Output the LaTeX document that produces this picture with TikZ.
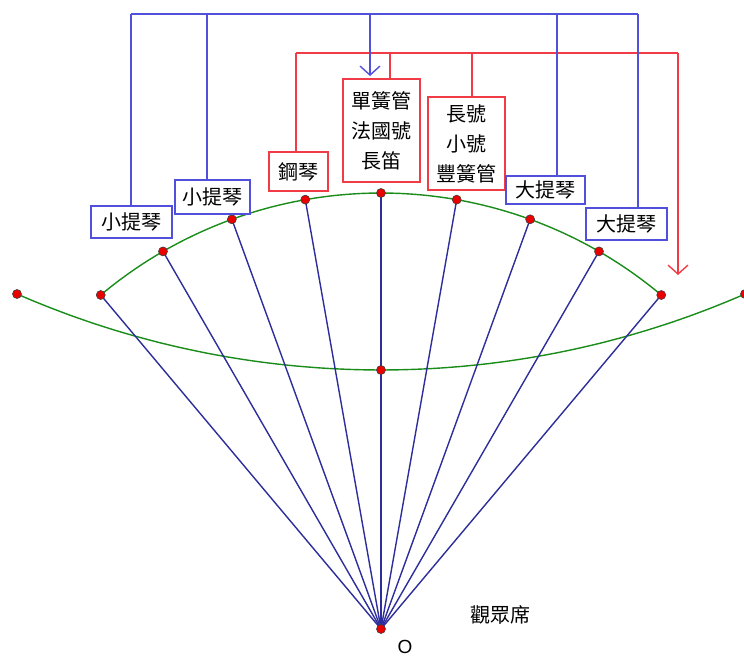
\documentclass[tikz,border=0pt]{standalone}
\usepackage{fontspec}
\setmainfont{Liberation Sans}
\newfontfamily\cjk{Noto Sans CJK TC}
\usetikzlibrary{arrows.meta}
\definecolor{raycol}{RGB}{45,45,155}
\definecolor{linkblue}{RGB}{80,80,220}
\definecolor{linkred}{RGB}{240,60,70}
\definecolor{arcgreen}{RGB}{25,140,25}
\definecolor{dotred}{RGB}{235,0,0}
\begin{document}
\begin{tikzpicture}[x=1pt,y=-1pt,
  ray/.style={raycol, line width=1.4pt},
  arcline/.style={arcgreen, line width=1.4pt},
  boxbase/.style={line width=1.5pt, fill=white, inner sep=0pt, align=center,
    font=\cjk\fontsize{20}{30}\selectfont},
  bluebox/.style={boxbase, draw=linkblue},
  redbox/.style={boxbase, draw=linkred},
  bluelink/.style={linkblue, line width=1.4pt},
  redlink/.style={linkred, line width=1.4pt},
  pin/.style={circle, fill=dotred, draw=black!75, line width=0.6pt, inner sep=0pt, minimum size=9pt},
  tip/.style={-{Straight Barb[length=9pt,width=20pt]}}
]
\useasboundingbox (0,0) rectangle (744,659);

% points
\coordinate (O) at (381,629);
\foreach \t [count=\i] in {-40,-30,...,40}
  \coordinate (u\i) at ({381+436*sin(\t)},{629-436*cos(\t)});
\coordinate (lw) at (17,294);
\coordinate (lc) at (381,370);
\coordinate (le) at (745,294);

% arcs
\draw[arcline] plot[domain=-23.6:23.6, samples=80] ({381+910*sin(\x)},{-540+910*cos(\x)});
\draw[arcline] plot[domain=-40:40, samples=80] ({381+436*sin(\x)},{629-436*cos(\x)});

% rays
\foreach \i in {1,...,9}
  \draw[ray] (O) -- (u\i);

% dots
\foreach \i in {1,...,9}
  \node[pin] (pu\i) at (u\i) {};
\node[pin] (plw) at (lw) {};
\node[pin] (plc) at (lc) {};
\node[pin] (ple) at (le) {};
\node[pin] (pO) at (O) {};

% boxes
\node[bluebox, minimum width=81pt, minimum height=32pt] (b1) at (131.5,222) {小提琴};
\node[bluebox, minimum width=75pt, minimum height=34pt] (b2) at (212.5,197) {小提琴};
\node[redbox, minimum width=59pt, minimum height=39pt] (r1) at (298.5,171.5) {鋼琴};
\node[redbox, minimum width=77pt, minimum height=103pt] (r2) at (381.5,130.5) {單簧管\\法國號\\長笛};
\node[redbox, minimum width=77pt, minimum height=93pt] (r3) at (466.5,143.5) {長號\\小號\\豐簧管};
\node[bluebox, minimum width=79pt, minimum height=28pt] (b3) at (545.5,190) {大提琴};
\node[bluebox, minimum width=81pt, minimum height=32pt] (b4) at (626.5,224) {大提琴};

% red links
\coordinate (rt1) at (296,53);
\coordinate (rt2) at (390,53);
\coordinate (rt3) at (472,53);
\coordinate (rt4) at (678,53);
\coordinate (rend) at (678,275);
\draw[redlink] (rt1) -- (rt4);
\draw[redlink] (rt1) -- (rt1 |- r1.north);
\draw[redlink] (rt2) -- (rt2 |- r2.north);
\draw[redlink] (rt3) -- (rt3 |- r3.north);
\draw[redlink, tip] (rt4) -- (rend);

% blue links
\coordinate (bt1) at (131,14);
\coordinate (bt2) at (207,14);
\coordinate (bt3) at (370,14);
\coordinate (bt4) at (557,14);
\coordinate (bt5) at (638,14);
\coordinate (bend) at (370,76);
\draw[bluelink] (bt1) -- (bt5);
\draw[bluelink] (bt1) -- (bt1 |- b1.north);
\draw[bluelink] (bt2) -- (bt2 |- b2.north);
\draw[bluelink, tip] (bt3) -- (bend);
\draw[bluelink] (bt4) -- (bt4 |- b3.north);
\draw[bluelink] (bt5) -- (bt5 |- b4.north);

% labels
\node[font=\cjk\fontsize{20}{24}\selectfont, inner sep=0pt] (aud) at (500,615) {觀眾席};
\node[font=\fontsize{19}{22}\selectfont, inner sep=0pt] (olab) at (405,647) {O};
\end{tikzpicture}
\end{document}
